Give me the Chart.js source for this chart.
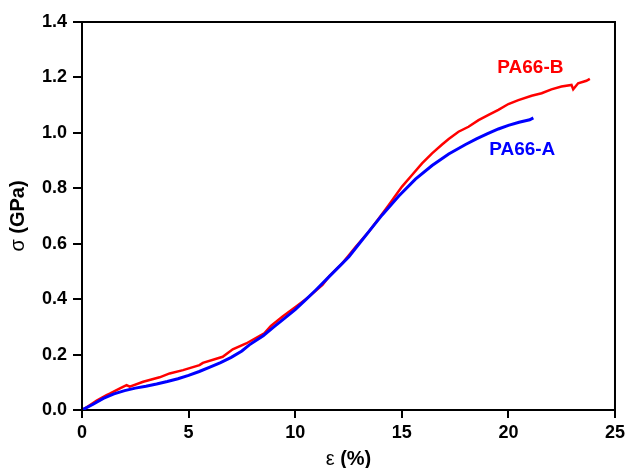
<!DOCTYPE html>
<html>
<head>
<meta charset="utf-8">
<script src="https://cdn.jsdelivr.net/npm/chart.js@4.4.1/dist/chart.umd.min.js"></script>
<style>
  html, body { margin: 0; padding: 0; background: #fff; }
  #wrap { width: 629px; height: 468px; position: relative; }
</style>
</head>
<body>
<div id="wrap"><canvas id="c" width="629" height="468"></canvas></div>
<script>
// Stress–strain curves of two PA66 fibres
const strainA = [0, 0.5, 1, 1.5, 2, 2.5, 3, 3.5, 4, 4.5, 5, 5.5, 6, 6.5, 7, 7.5, 7.85, 8.5, 9, 9.41, 10, 10.5, 10.97, 11.5, 12, 12.52, 13, 13.5, 14.08, 14.86, 15.64, 16.42, 17.2, 17.99, 18.5, 19, 19.53, 20, 20.5, 21, 21.17];
const stressA = [0, 0.02, 0.042, 0.058, 0.07, 0.079, 0.086, 0.094, 0.103, 0.113, 0.125, 0.139, 0.155, 0.171, 0.19, 0.213, 0.235, 0.268, 0.30, 0.325, 0.362, 0.398, 0.433, 0.474, 0.513, 0.553, 0.60, 0.648, 0.704, 0.772, 0.833, 0.882, 0.924, 0.958, 0.978, 0.996, 1.014, 1.027, 1.038, 1.047, 1.054];

const strainB = [0, 0.22, 0.69, 1.15, 1.3, 1.78, 2.09, 2.24, 2.87, 3.64, 4.11, 4.74, 5.51, 5.67, 6.6, 7.07, 7.7, 8.32, 8.55, 8.86, 9.41, 10.03, 10.65, 11.28, 11.59, 12.21, 12.84, 13.46, 13.93, 14.39, 15.01, 15.48, 15.95, 16.42, 16.89, 17.2, 17.66, 18.13, 18.6, 19.07, 19.53, 20.0, 20.47, 21.09, 21.56, 22.02, 22.49, 22.96, 23.04, 23.27, 23.66, 23.82];
const stressB = [0, 0.01, 0.034, 0.054, 0.059, 0.078, 0.09, 0.084, 0.102, 0.118, 0.132, 0.144, 0.162, 0.17, 0.192, 0.219, 0.24, 0.267, 0.277, 0.303, 0.337, 0.373, 0.409, 0.451, 0.482, 0.529, 0.589, 0.644, 0.692, 0.74, 0.806, 0.848, 0.89, 0.926, 0.958, 0.978, 1.004, 1.022, 1.046, 1.065, 1.083, 1.104, 1.118, 1.134, 1.143, 1.157, 1.167, 1.173, 1.157, 1.179, 1.188, 1.195];

const xTicks = [0, 5, 10, 15, 20, 25];
const yTicks = [0.0, 0.2, 0.4, 0.6, 0.8, 1.0, 1.2, 1.4];

const seriesNames = ['PA66-A', 'PA66-B'];
const seriesColors = ['#0000ff', '#ff0000'];
// label anchor points (strain, stress) for the inline series names
const labelX = [20.65, 21.03];
const labelY = [0.94, 1.234];

const FONT = '"Liberation Sans", Arial, Helvetica, sans-serif';

const toPts = (xs, ys) => xs.map((x, i) => ({ x: x, y: ys[i] }));

// closed frame around the plot area
const framePlugin = {
  id: 'frame',
  afterDatasetsDraw(chart) {
    const { ctx, chartArea: a } = chart;
    ctx.save();
    ctx.strokeStyle = '#000';
    ctx.lineWidth = 2;
    ctx.beginPath();
    ctx.moveTo(a.left, a.bottom);
    ctx.lineTo(a.left, a.top);
    ctx.lineTo(a.right, a.top);
    ctx.lineTo(a.right, a.bottom);
    ctx.stroke();
    ctx.restore();
  }
};

// series names written next to their curves
const namePlugin = {
  id: 'names',
  afterDatasetsDraw(chart) {
    const { ctx, scales } = chart;
    ctx.save();
    ctx.font = 'bold 19px ' + FONT;
    ctx.textAlign = 'center';
    ctx.textBaseline = 'middle';
    seriesNames.forEach((n, i) => {
      ctx.fillStyle = seriesColors[i];
      ctx.fillText(n, scales.x.getPixelForValue(labelX[i]), scales.y.getPixelForValue(labelY[i]));
    });
    ctx.restore();
  }
};

// axis titles: Greek symbol in regular weight, unit in bold
function drawMixed(ctx, parts, cx, cy) {
  const widths = parts.map(p => { ctx.font = p.font; return ctx.measureText(p.text).width; });
  const total = widths.reduce((a, b) => a + b, 0);
  let x = cx - total / 2;
  parts.forEach((p, i) => {
    ctx.font = p.font;
    ctx.fillText(p.text, x, cy);
    x += widths[i];
  });
}
const titlePlugin = {
  id: 'axisTitles',
  afterDraw(chart) {
    const { ctx, chartArea: a } = chart;
    ctx.save();
    ctx.fillStyle = '#000';
    ctx.textAlign = 'left';
    ctx.textBaseline = 'middle';
    const reg = '20px ' + FONT;
    const bold = 'bold 20px ' + FONT;
    drawMixed(ctx, [{ text: 'ε', font: reg }, { text: ' (%)', font: bold }], (a.left + a.right) / 2, 459);
    ctx.translate(18, (a.top + a.bottom) / 2);
    ctx.rotate(-Math.PI / 2);
    drawMixed(ctx, [{ text: 'σ', font: reg }, { text: ' (GPa)', font: bold }], 0, 0);
    ctx.restore();
  }
};

new Chart(document.getElementById('c'), {
  type: 'scatter',
  data: {
    datasets: [
      {
        label: seriesNames[0],
        data: toPts(strainA, stressA),
        showLine: true,
        borderColor: seriesColors[0],
        borderWidth: 3,
        pointRadius: 0,
        tension: 0
      },
      {
        label: seriesNames[1],
        data: toPts(strainB, stressB),
        showLine: true,
        borderColor: seriesColors[1],
        borderWidth: 2.5,
        pointRadius: 0,
        tension: 0
      }
    ]
  },
  options: {
    responsive: false,
    animation: false,
    devicePixelRatio: 1,
    layout: { padding: { top: 22, right: 12, left: 0, bottom: 0 } },
    plugins: { legend: { display: false }, tooltip: { enabled: false } },
    scales: {
      x: {
        type: 'linear',
        min: 0, max: 25,
        afterBuildTicks(s) { s.ticks = xTicks.map(v => ({ value: v })); },
        afterFit(s) { s.height = 58; },
        border: { display: true, color: '#000', width: 2 },
        grid: { display: true, drawOnChartArea: false, drawTicks: true, tickLength: 8, color: '#000', lineWidth: 2 },
        ticks: {
          color: '#000',
          padding: 4,
          maxRotation: 0,
          font: { family: FONT, size: 18, weight: 'bold' },
          callback: v => String(v)
        }
      },
      y: {
        type: 'linear',
        min: 0, max: 1.4,
        afterBuildTicks(s) { s.ticks = yTicks.map(v => ({ value: v })); },
        afterFit(s) { s.width = 82; },
        border: { display: true, color: '#000', width: 2 },
        grid: { display: true, drawOnChartArea: false, drawTicks: true, tickLength: 9, color: '#000', lineWidth: 2 },
        ticks: {
          color: '#000',
          padding: 6,
          font: { family: FONT, size: 18, weight: 'bold' },
          callback: v => Number(v).toFixed(1)
        }
      }
    }
  },
  plugins: [framePlugin, namePlugin, titlePlugin]
});
</script>
</body>
</html>
